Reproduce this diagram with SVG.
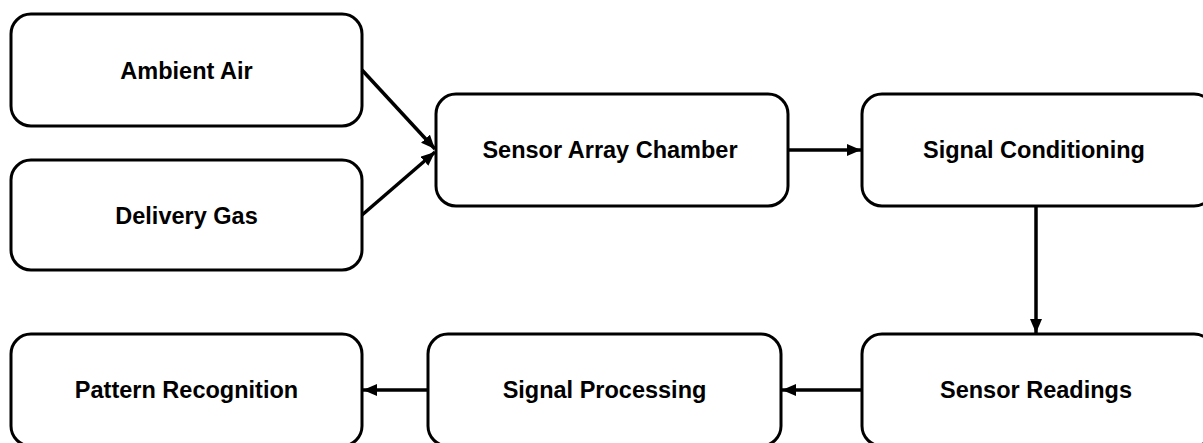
<svg xmlns="http://www.w3.org/2000/svg" width="1203" height="443" viewBox="0 0 1203 443">
<style>
.box{fill:#fff;stroke:#000;stroke-width:3}
.lbl{font-family:"Liberation Sans",Arial,sans-serif;font-weight:bold;font-size:23.5px;fill:#000;text-anchor:middle}
.conn{stroke:#000;stroke-width:3.5;fill:none}
</style>
<defs>
<marker id="ah" markerUnits="userSpaceOnUse" markerWidth="16" markerHeight="14" refX="14" refY="6" orient="auto">
<path d="M0,0 L14,6 L0,12 Z" fill="#000"/>
</marker>
</defs>
<rect width="1203" height="443" fill="#fff"/>
<g id="ambient-air"><rect class="box" x="11" y="14" width="351" height="112" rx="20"/><text class="lbl" x="186.5" y="79">Ambient Air</text></g>
<g id="delivery-gas"><rect class="box" x="11" y="160" width="351" height="110" rx="20"/><text class="lbl" x="186.5" y="224">Delivery Gas</text></g>
<g id="sensor-array-chamber"><rect class="box" x="436" y="94" width="352" height="112" rx="20"/><text class="lbl" x="610" y="158">Sensor Array Chamber</text></g>
<g id="signal-conditioning"><rect class="box" x="862" y="94" width="352" height="112" rx="20"/><text class="lbl" x="1034" y="158">Signal Conditioning</text></g>
<g id="sensor-readings"><rect class="box" x="862" y="334" width="352" height="112" rx="20"/><text class="lbl" x="1036" y="398">Sensor Readings</text></g>
<g id="signal-processing"><rect class="box" x="428" y="334" width="353" height="112" rx="20"/><text class="lbl" x="604.5" y="398">Signal Processing</text></g>
<g id="pattern-recognition"><rect class="box" x="11" y="334" width="351" height="112" rx="20"/><text class="lbl" x="186.5" y="398">Pattern Recognition</text></g>
<g id="connectors">
<line class="conn" x1="362" y1="70" x2="435" y2="149" marker-end="url(#ah)"/>
<line class="conn" x1="362" y1="215" x2="435" y2="152" marker-end="url(#ah)"/>
<line class="conn" x1="788" y1="150" x2="861" y2="150" marker-end="url(#ah)"/>
<line class="conn" x1="1036" y1="206" x2="1036" y2="333" marker-end="url(#ah)"/>
<line class="conn" x1="862" y1="390" x2="782" y2="390" marker-end="url(#ah)"/>
<line class="conn" x1="428" y1="390" x2="363" y2="390" marker-end="url(#ah)"/>
</g>
</svg>
